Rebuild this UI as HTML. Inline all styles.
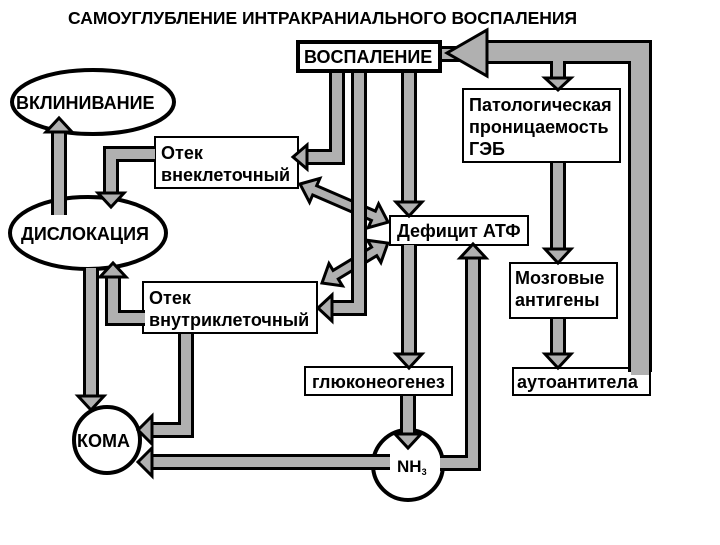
<!DOCTYPE html>
<html><head><meta charset="utf-8"><style>
html,body{margin:0;padding:0;background:#fff;}
svg text{font-family:"Liberation Sans","DejaVu Sans",sans-serif;font-weight:bold;fill:#000;}
</style></head><body>
<svg width="720" height="540" viewBox="0 0 720 540" xmlns="http://www.w3.org/2000/svg">
<rect width="720" height="540" fill="#fff"/>
<text x="68" y="24" font-size="17.5">САМОУГЛУБЛЕНИЕ ИНТРАКРАНИАЛЬНОГО ВОСПАЛЕНИЯ</text>

<ellipse cx="93" cy="102" rx="81" ry="32" fill="#fff" stroke="#000" stroke-width="4"/>
<ellipse cx="88" cy="233" rx="78" ry="36" fill="#fff" stroke="#000" stroke-width="4"/>
<circle cx="107" cy="440" r="33" fill="#fff" stroke="#000" stroke-width="4"/>
<circle cx="408" cy="465" r="35" fill="#fff" stroke="#000" stroke-width="4"/>

<rect x="155" y="137" width="143" height="51" fill="#fff" stroke="#000" stroke-width="2"/>
<rect x="143" y="282" width="174" height="51" fill="#fff" stroke="#000" stroke-width="2"/>
<rect x="390" y="216" width="138" height="29" fill="#fff" stroke="#000" stroke-width="2"/>
<rect x="463" y="89" width="157" height="73" fill="#fff" stroke="#000" stroke-width="2"/>
<rect x="510" y="263" width="107" height="55" fill="#fff" stroke="#000" stroke-width="2"/>
<rect x="305" y="367" width="147" height="28" fill="#fff" stroke="#000" stroke-width="2"/>
<rect x="513" y="368" width="137" height="27" fill="#fff" stroke="#000" stroke-width="2"/>

<g fill="#b0b0b0" stroke="#000" stroke-width="3" stroke-linejoin="miter">
<polygon transform="translate(300,184) rotate(23.4)" points="0,0 16,-13 16,-5 80,-5 80,-13 96,0 80,13 80,5 16,5 16,13"/>
<polygon transform="translate(322,283) rotate(-31.2)" points="0,0 16,-13 16,-5 61,-5 61,-13 77,0 61,13 61,5 16,5 16,13"/>
</g>

<g fill="none" stroke-linejoin="miter" stroke-linecap="butt">
<g stroke="#000" stroke-width="16">
<path d="M640,372 V52 H485" stroke-width="24"/>
<path d="M441,54 H558 V80"/>
<path d="M337,72 V157 H305"/>
<path d="M359,72 V308 H330"/>
<path d="M409,72 V204"/>
<path d="M409,245 V356"/>
<path d="M408,396 V436"/>
<path d="M440,463 H473 V256"/>
<path d="M390,462 H150"/>
<path d="M186,334 V430 H150"/>
<path d="M91,268 V398"/>
<path d="M145,318 H113 V275"/>
<path d="M155,154 H111 V195"/>
<path d="M59,215 V130"/>
<path d="M558,163 V251"/>
<path d="M558,319 V356"/>
</g>
<g stroke="#b0b0b0" stroke-width="10">
<path d="M640,375 V52 H485" stroke-width="18"/>
<path d="M441,54 H558 V80"/>
<path d="M337,72 V157 H305"/>
<path d="M359,72 V308 H330"/>
<path d="M409,72 V204"/>
<path d="M409,245 V356"/>
<path d="M408,396 V436"/>
<path d="M440,463 H473 V256"/>
<path d="M390,462 H150"/>
<path d="M186,334 V430 H150"/>
<path d="M91,268 V398"/>
<path d="M145,318 H113 V275"/>
<path d="M155,154 H111 V195"/>
<path d="M59,215 V130"/>
<path d="M558,163 V251"/>
<path d="M558,319 V356"/>
</g>
</g>

<g fill="#b0b0b0" stroke="#000" stroke-width="3">
<polygon points="487,30 487,76 447,53"/>
<polygon points="545,78 571,78 558,90"/>
<polygon points="307,145 307,169 293,157"/>
<polygon points="332,295 332,321 318,308"/>
<polygon points="396,202 422,202 409,216"/>
<polygon points="396,354 422,354 409,368"/>
<polygon points="395,434 421,434 408,448"/>
<polygon points="460,258 486,258 473,244"/>
<polygon points="152,448 152,476 138,462"/>
<polygon points="152,416 152,444 138,430"/>
<polygon points="78,396 104,396 91,410"/>
<polygon points="100,277 126,277 113,263"/>
<polygon points="98,193 124,193 111,207"/>
<polygon points="46,132 72,132 59,118"/>
<polygon points="545,249 571,249 558,263"/>
<polygon points="545,354 571,354 558,368"/>
</g>

<rect x="298" y="42" width="142" height="29" fill="#fff" stroke="#000" stroke-width="4"/>
<text x="304" y="63" font-size="18">ВОСПАЛЕНИЕ</text>

<text x="16" y="109" font-size="18">ВКЛИНИВАНИЕ</text>
<text x="21" y="240" font-size="18">ДИСЛОКАЦИЯ</text>
<text x="77" y="447" font-size="18">КОМА</text>
<text x="397" y="472" font-size="17">NH<tspan font-size="9" dy="3">3</tspan></text>
<text x="161" y="159" font-size="18">Отек</text>
<text x="161" y="181" font-size="18">внеклеточный</text>
<text x="149" y="304" font-size="18">Отек</text>
<text x="149" y="326" font-size="18">внутриклеточный</text>
<text x="397" y="237" font-size="18">Дефицит АТФ</text>
<text x="469" y="111" font-size="18">Патологическая</text>
<text x="469" y="133" font-size="18">проницаемость</text>
<text x="469" y="155" font-size="18">ГЭБ</text>
<text x="515" y="284" font-size="18">Мозговые</text>
<text x="515" y="306" font-size="18">антигены</text>
<text x="312" y="388" font-size="18">глюконеогенез</text>
<text x="517" y="388" font-size="18">аутоантитела</text>
</svg>
</body></html>
